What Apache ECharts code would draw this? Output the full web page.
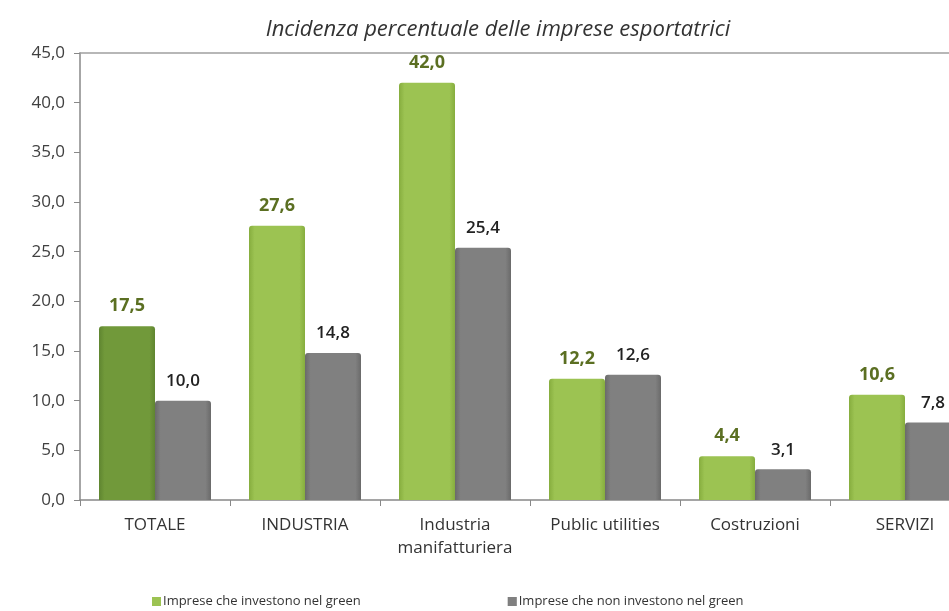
<!DOCTYPE html>
<html><head><meta charset="utf-8">
<script src="https://cdn.jsdelivr.net/npm/echarts@6/dist/echarts.min.js"></script>
<style>html,body{margin:0;padding:0;background:#fff;overflow:hidden;width:949px;height:611px}#c{width:980px;height:611px}</style>
</head><body><div id="c"></div>
<script>
const categories = ['TOTALE', 'INDUSTRIA', 'Industria\nmanifatturiera', 'Public utilities', 'Costruzioni', 'SERVIZI'];
const greenValues = [17.5, 27.6, 42.0, 12.2, 4.4, 10.6];
const grayValues = [10.0, 14.8, 25.4, 12.6, 3.1, 7.8];
const seriesNames = ['Imprese che investono nel green', 'Imprese che non investono nel green'];
const titleText = 'Incidenza percentuale delle imprese esportatrici';

const FONT = '"Open Sans", sans-serif';
const fmt = v => v.toFixed(1).replace('.', ',');
function grad(c1, c2) {
  return new echarts.graphic.LinearGradient(0, 0, 1, 0, [
    {offset: 0, color: c2}, {offset: 0.1, color: c1}, {offset: 0.9, color: c1}, {offset: 1, color: c2}
  ]);
}
const greenMain = grad('#9cc352', '#86ad3e');
const greenDark = grad('#71993a', '#5f8530');
const grayMain = grad('#808080', '#6a6a6a');

const chart = echarts.init(document.getElementById('c'), null, {renderer: 'canvas'});
chart.setOption({
  animation: false,
  title: {text: titleText, left: 493, top: 14, textAlign: 'center',
    textStyle: {fontFamily: FONT, fontStyle: 'italic', fontWeight: 'normal', fontSize: 22, color: '#333'}},
  grid: {left: 80, top: 53, right: 0, bottom: 111, containLabel: false},
  legend: {top: 590, left: 147, itemWidth: 9, itemHeight: 9, itemGap: 147, icon: 'rect',
    textStyle: {fontFamily: FONT, fontSize: 13, color: '#333', padding: [0,0,0,-3]},
    data: seriesNames},
  xAxis: [{type: 'category', data: categories,
    axisLine: {lineStyle: {color: '#888', width: 1.5}},
    axisTick: {show: true, length: 6, lineStyle: {color: '#888'}},
    axisLabel: {fontFamily: FONT, fontSize: 17, color: '#333', margin: 14, lineHeight: 23}},
   {type: 'category', position: 'top', data: categories,
    axisLine: {lineStyle: {color: '#a0a0a0', width: 1.5}}, axisTick: {show: false}, axisLabel: {show: false}}],
  yAxis: {type: 'value', min: 0, max: 45, interval: 5,
    axisLine: {show: true, lineStyle: {color: '#888', width: 1.5}},
    axisTick: {show: true, length: 6, inside: false, lineStyle: {color: '#888'}},
    splitLine: {show: false},
    axisLabel: {fontFamily: FONT, fontSize: 17, color: '#404040', margin: 15, formatter: v => fmt(v)}},
  series: [
    {name: seriesNames[0], type: 'bar', barWidth: 56, barGap: '0%',
      data: greenValues.map((v, i) => ({value: v, itemStyle: {color: i === 0 ? greenDark : greenMain}})),
      itemStyle: {color: '#9cc352', borderRadius: [3,3,0,0]},
      label: {show: true, position: 'top', distance: 11, formatter: p => fmt(p.value),
        fontFamily: FONT, fontSize: 18, fontWeight: 'bold', color: '#5b6f22'}},
    {name: seriesNames[1], type: 'bar', barWidth: 56,
      data: grayValues,
      itemStyle: {color: grayMain, borderRadius: [3,3,0,0]},
      label: {show: true, position: 'top', distance: 11, formatter: p => fmt(p.value),
        fontFamily: FONT, fontSize: 17, fontWeight: 600, color: '#222'}}
  ]
});
</script></body></html>
